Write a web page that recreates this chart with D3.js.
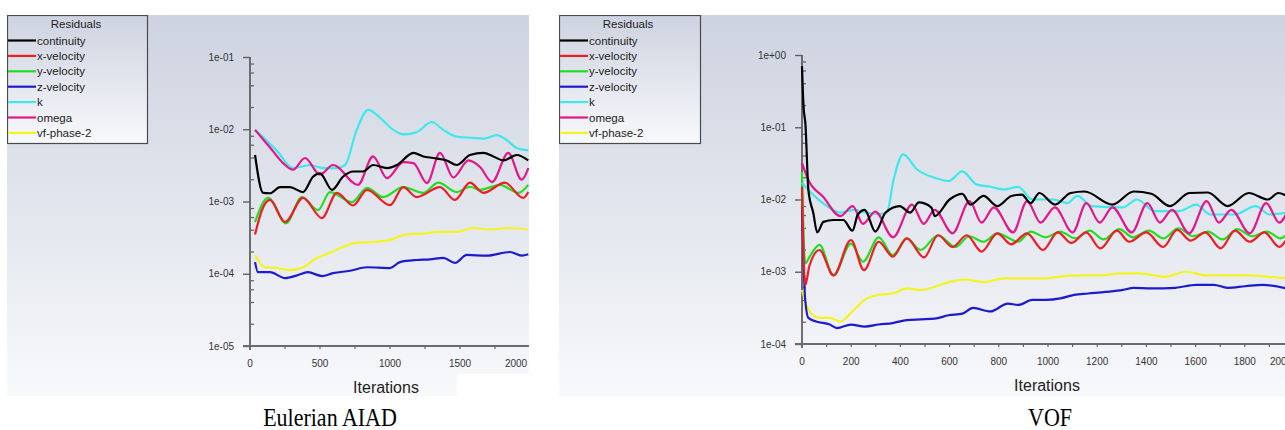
<!DOCTYPE html>
<html>
<head>
<meta charset="utf-8">
<script src="https://cdn.jsdelivr.net/npm/d3@7"></script>
<style>
    body { margin: 0; background: #ffffff; }
    svg { display: block; font-family: Arial, "Liberation Sans", sans-serif; }
</style>
</head>
<body>
<svg id="chart" width="1285" height="430"></svg>
<script>
/* residual plots, Eulerian AIAD vs VOF */

const residualNames = ["continuity", "x-velocity", "y-velocity", "z-velocity", "k", "omega", "vf-phase-2"];
const residualColors = ["#000000", "#ee1c24", "#22dd22", "#1c1ccc", "#3ee8ec", "#e4168a", "#f4f422"];

// Eulerian AIAD: [iteration, residual]
const aiadContinuity = [[36, 4.4e-3], [93, 1.32e-3], [143, 1.3e-3], [214, 1.58e-3], [286, 1.58e-3], [379, 1.35e-3], [450, 2.2e-3], [500, 2.45e-3], [586, 1.45e-3], [664, 2.2e-3], [736, 2.6e-3], [807, 2.6e-3], [879, 3.2e-3], [979, 2.9e-3], [1050, 3.2e-3], [1167, 4.7e-3], [1238, 4.2e-3], [1310, 4.0e-3], [1405, 3.7e-3], [1476, 3.2e-3], [1571, 4.4e-3], [1667, 4.7e-3], [1738, 4.2e-3], [1810, 3.7e-3], [1905, 4.4e-3], [1988, 3.7e-3]];
const aiadXVelocity = [[36, 3.5e-4], [90, 8e-4], [143, 1.05e-3], [250, 5.2e-4], [379, 1.12e-3], [514, 5.9e-4], [621, 1.32e-3], [736, 8.8e-4], [836, 1.45e-3], [1000, 8.9e-4], [1095, 1.58e-3], [1190, 1.15e-3], [1357, 1.58e-3], [1464, 1.05e-3], [1571, 1.82e-3], [1667, 1.32e-3], [1821, 1.82e-3], [1952, 1.12e-3], [1988, 1.35e-3]];
const aiadYVelocity = [[36, 5.2e-4], [129, 1.12e-3], [257, 5.0e-4], [371, 1.15e-3], [486, 7.6e-4], [571, 1.35e-3], [729, 9.8e-4], [836, 1.55e-3], [950, 1.15e-3], [1095, 1.58e-3], [1238, 1.32e-3], [1345, 1.82e-3], [1476, 1.35e-3], [1571, 1.6e-3], [1640, 1.45e-3], [1786, 1.7e-3], [1917, 1.32e-3], [1988, 1.7e-3]];
const aiadZVelocity = [[36, 1.45e-4], [57, 1.05e-4], [143, 1.05e-4], [250, 8.7e-5], [336, 9.5e-5], [414, 1.05e-4], [514, 9.3e-5], [593, 1.02e-4], [714, 1.1e-4], [836, 1.23e-4], [1000, 1.2e-4], [1071, 1.45e-4], [1190, 1.55e-4], [1286, 1.58e-4], [1381, 1.66e-4], [1464, 1.41e-4], [1548, 1.82e-4], [1690, 1.78e-4], [1857, 2.0e-4], [1940, 1.78e-4], [1988, 1.86e-4]];
const aiadK = [[36, 9.8e-3], [190, 5.1e-3], [309, 2.9e-3], [429, 3.2e-3], [523, 2.9e-3], [620, 2.9e-3], [679, 3.2e-3], [762, 9.8e-3], [845, 1.86e-2], [928, 1.45e-2], [1024, 9.8e-3], [1095, 8.5e-3], [1190, 9.1e-3], [1298, 1.26e-2], [1381, 9.8e-3], [1476, 7.9e-3], [1595, 7.6e-3], [1667, 7.4e-3], [1762, 8.3e-3], [1833, 7.1e-3], [1905, 5.5e-3], [1988, 5.1e-3]];
const aiadOmega = [[36, 9.8e-3], [143, 5.6e-3], [236, 3.4e-3], [307, 2.75e-3], [393, 4.0e-3], [500, 2.35e-3], [593, 3.2e-3], [771, 1.7e-3], [879, 4.2e-3], [979, 2.1e-3], [1095, 3.5e-3], [1167, 3.4e-3], [1264, 1.8e-3], [1357, 4.7e-3], [1452, 2.15e-3], [1560, 3.7e-3], [1643, 3.0e-3], [1729, 1.86e-3], [1845, 4.7e-3], [1940, 2.0e-3], [1988, 2.9e-3]];
const aiadPhase = [[36, 1.82e-4], [107, 1.23e-4], [193, 1.2e-4], [286, 1.12e-4], [379, 1.23e-4], [479, 1.66e-4], [571, 1.95e-4], [664, 2.35e-4], [764, 2.7e-4], [879, 2.75e-4], [1000, 2.95e-4], [1119, 3.5e-4], [1238, 3.6e-4], [1357, 3.8e-4], [1476, 3.8e-4], [1595, 4.3e-4], [1714, 4.1e-4], [1857, 4.3e-4], [1988, 4.1e-4]];

// VOF: [iteration, residual]
const vofContinuity = [[0, 0.7], [6, 0.2], [14, 0.11], [26, 1.35e-2], [46, 6.5e-3], [62, 3.5e-3], [87, 4.9e-3], [128, 5.2e-3], [168, 5.2e-3], [205, 3.7e-3], [227, 6.2e-3], [255, 7.2e-3], [298, 3.6e-3], [340, 6.6e-3], [397, 8.1e-3], [440, 6.6e-3], [475, 9.1e-3], [525, 7.8e-3], [540, 5.9e-3], [600, 1.0e-2], [652, 1.2e-2], [685, 8.5e-3], [738, 1.12e-2], [794, 8.1e-3], [851, 1.12e-2], [894, 1.17e-2], [929, 8.9e-3], [965, 1.23e-2], [1028, 8.5e-3], [1092, 1.23e-2], [1149, 1.29e-2], [1262, 8.5e-3], [1348, 1.29e-2], [1420, 1.2e-2], [1496, 8.1e-3], [1574, 1.23e-2], [1650, 1.25e-2], [1730, 8.1e-3], [1816, 1.23e-2], [1894, 1.0e-2], [1936, 1.23e-2], [1975, 1.1e-2]];
const vofXVelocity = [[0, 1.5e-2], [13, 6.5e-4], [30, 1.2e-3], [71, 2.0e-3], [128, 8.9e-4], [199, 2.75e-3], [252, 1.05e-3], [312, 2.6e-3], [369, 1.62e-3], [426, 2.9e-3], [496, 1.58e-3], [553, 3.2e-3], [612, 2.2e-3], [670, 3.2e-3], [730, 1.9e-3], [794, 3.4e-3], [850, 2.4e-3], [915, 3.4e-3], [979, 2.0e-3], [1040, 3.5e-3], [1095, 2.5e-3], [1155, 3.5e-3], [1213, 2.1e-3], [1280, 3.7e-3], [1330, 2.6e-3], [1400, 3.5e-3], [1468, 2.2e-3], [1525, 3.8e-3], [1580, 2.7e-3], [1640, 3.5e-3], [1702, 2.1e-3], [1760, 3.7e-3], [1820, 2.6e-3], [1880, 3.5e-3], [1940, 2.2e-3], [1975, 3.0e-3]];
const vofYVelocity = [[0, 2.4e-2], [13, 1.3e-3], [30, 1.6e-3], [71, 2.35e-3], [128, 8.9e-4], [199, 2.45e-3], [248, 1.38e-3], [312, 3.0e-3], [369, 1.7e-3], [426, 2.9e-3], [482, 2.0e-3], [553, 3.2e-3], [624, 2.2e-3], [680, 3.1e-3], [738, 2.6e-3], [794, 3.4e-3], [879, 2.6e-3], [930, 3.6e-3], [990, 3.0e-3], [1050, 3.6e-3], [1110, 2.9e-3], [1170, 3.7e-3], [1225, 2.8e-3], [1290, 3.9e-3], [1345, 3.0e-3], [1410, 3.7e-3], [1470, 2.9e-3], [1530, 4.0e-3], [1590, 3.1e-3], [1650, 3.6e-3], [1710, 2.8e-3], [1770, 3.9e-3], [1830, 3.1e-3], [1890, 3.6e-3], [1945, 2.9e-3], [1975, 3.4e-3]];
const vofZVelocity = [[0, 8e-3], [13, 4.1e-4], [26, 2.3e-4], [57, 2.05e-4], [113, 1.86e-4], [142, 1.66e-4], [199, 1.86e-4], [255, 1.74e-4], [312, 1.86e-4], [369, 1.95e-4], [426, 2.14e-4], [482, 2.19e-4], [539, 2.24e-4], [596, 2.5e-4], [652, 2.63e-4], [695, 3.16e-4], [766, 2.82e-4], [837, 3.63e-4], [879, 3.47e-4], [936, 4.07e-4], [993, 4.07e-4], [1050, 4.27e-4], [1106, 4.79e-4], [1163, 5.0e-4], [1234, 5.25e-4], [1305, 5.6e-4], [1348, 6.0e-4], [1418, 5.9e-4], [1518, 6.0e-4], [1603, 6.6e-4], [1674, 6.6e-4], [1730, 6.0e-4], [1801, 6.3e-4], [1872, 6.6e-4], [1969, 5.9e-4]];
const vofK = [[0, 1.7e-2], [14, 1.5e-2], [85, 8.9e-3], [156, 6.6e-3], [213, 7.2e-3], [255, 6.6e-3], [312, 6.3e-3], [345, 6.6e-3], [372, 1.86e-2], [411, 4.2e-2], [468, 2.6e-2], [539, 2.0e-2], [596, 1.8e-2], [652, 2.45e-2], [709, 1.62e-2], [766, 1.5e-2], [823, 1.38e-2], [879, 1.5e-2], [936, 1.0e-2], [1021, 1.0e-2], [1078, 8.9e-3], [1120, 1.12e-2], [1177, 8.1e-3], [1305, 7.8e-3], [1362, 1.0e-2], [1433, 6.9e-3], [1532, 6.9e-3], [1603, 8.5e-3], [1660, 6.2e-3], [1759, 6.2e-3], [1844, 8.1e-3], [1901, 6.2e-3], [1975, 6.6e-3]];
const vofOmega = [[0, 3.2e-2], [28, 1.8e-2], [85, 1.1e-2], [156, 5.9e-3], [206, 8.1e-3], [248, 4.6e-3], [298, 6.8e-3], [370, 3.0e-3], [447, 8.5e-3], [495, 4.6e-3], [539, 7.2e-3], [612, 3.4e-3], [681, 9.5e-3], [730, 4.8e-3], [780, 7.8e-3], [858, 3.5e-3], [915, 9.5e-3], [970, 4.8e-3], [1028, 7.8e-3], [1100, 3.5e-3], [1156, 8.9e-3], [1210, 4.8e-3], [1262, 7.8e-3], [1340, 3.5e-3], [1404, 8.9e-3], [1455, 4.8e-3], [1504, 7.2e-3], [1574, 3.4e-3], [1645, 9.5e-3], [1695, 4.8e-3], [1745, 7.2e-3], [1820, 3.4e-3], [1887, 8.9e-3], [1940, 4.8e-3], [1975, 7.0e-3]];
const vofPhase = [[0, 5.6e-4], [28, 2.95e-4], [71, 2.3e-4], [113, 2.3e-4], [156, 2.05e-4], [199, 2.7e-4], [255, 4.1e-4], [312, 4.8e-4], [369, 5.0e-4], [426, 5.9e-4], [482, 5.6e-4], [539, 6.2e-4], [596, 7.2e-4], [667, 7.8e-4], [738, 7.2e-4], [823, 8.1e-4], [908, 8.1e-4], [993, 8.1e-4], [1064, 8.7e-4], [1135, 8.9e-4], [1206, 8.9e-4], [1305, 9.5e-4], [1376, 9.5e-4], [1475, 8.5e-4], [1560, 1.0e-3], [1645, 8.9e-4], [1730, 8.9e-4], [1816, 8.9e-4], [1901, 8.5e-4], [1975, 8.1e-4]];

const aiadXTicks = [0, 500, 1000, 1500, 2000];
const aiadYTicks = [1e-5, 1e-4, 1e-3, 1e-2, 1e-1];
const vofXTicks = [0, 200, 400, 600, 800, 1000, 1200, 1400, 1600, 1800, 2000];
const vofYTicks = [1e-4, 1e-3, 1e-2, 1e-1, 1e0];

const panels = [
    {
        id: "aiad",
        caption: "Eulerian AIAD",
        captionX: 330,
        series: [aiadContinuity, aiadXVelocity, aiadYVelocity, aiadZVelocity, aiadK, aiadOmega, aiadPhase],
        xTicks: aiadXTicks,
        xMinorStep: 250,
        yTicks: aiadYTicks,
        frame: { x: 7, y: 15, w: 522, h: 381 },
        xRange: [250, 530],
        yRange: [346, 57],
        lastLabelX: 516,
        legend: { x: 7, y: 15, w: 140, h: 128 },
        titleX: 386
    },
    {
        id: "vof",
        caption: "VOF",
        captionX: 1050,
        series: [vofContinuity, vofXVelocity, vofYVelocity, vofZVelocity, vofK, vofOmega, vofPhase],
        xTicks: vofXTicks,
        xMinorStep: 100,
        yTicks: vofYTicks,
        frame: { x: 559, y: 15, w: 726, h: 382 },
        xRange: [802, 1294],
        yRange: [344, 55],
        lastLabelX: 1281,
        legend: { x: 559, y: 15, w: 141, h: 128 },
        titleX: 1047
    }
];

function formatExp(d) {
    const e = Math.round(Math.log10(d));
    return `1e${e < 0 ? "-" : "+"}${String(Math.abs(e)).padStart(2, "0")}`;
}

const svg = d3.select("#chart");
const defs = svg.append("defs");

const grad = defs.append("linearGradient")
    .attr("id", "bg")
    .attr("x1", 0).attr("y1", 0).attr("x2", 0).attr("y2", 1);
grad.append("stop").attr("offset", "0%").attr("stop-color", "#cdd3e0");
grad.append("stop").attr("offset", "55%").attr("stop-color", "#e4e7ee");
grad.append("stop").attr("offset", "100%").attr("stop-color", "#f8f9fb");

panels.forEach(p => {
    const f = p.frame;
    defs.append("clipPath").attr("id", `clip-${p.id}`)
        .append("rect").attr("x", f.x).attr("y", f.y).attr("width", f.w).attr("height", f.h);

    const g = svg.append("g").attr("clip-path", `url(#clip-${p.id})`);

    g.append("rect")
        .attr("x", f.x).attr("y", f.y).attr("width", f.w).attr("height", f.h)
        .attr("fill", "url(#bg)");

    const x = d3.scaleLinear().domain([0, 2000]).range(p.xRange);
    const y = d3.scaleLog().domain(d3.extent(p.yTicks)).range(p.yRange);
    const x0 = p.xRange[0];
    const yBottom = p.yRange[0];

    // minor y ticks
    const minor = [];
    p.yTicks.slice(0, -1).forEach(t => {
        [2, 4, 6, 8].forEach(m => minor.push(t * m));
    });
    g.append("g").selectAll("line").data(minor).join("line")
        .attr("x1", x0).attr("x2", x0 + 4)
        .attr("y1", d => y(d)).attr("y2", d => y(d))
        .attr("stroke", "#606060").attr("stroke-width", 1.2);

    // y axis
    const yAxis = d3.axisLeft(y).tickValues(p.yTicks).tickFormat(formatExp).tickSize(7).tickPadding(9);
    const ya = g.append("g").attr("transform", `translate(${x0},0)`).call(yAxis);
    ya.select(".domain").remove();
    ya.selectAll(".tick line").attr("stroke", "#606060").attr("stroke-width", 1.4);
    ya.selectAll(".tick text").attr("fill", "#333").style("font-size", "10px").style("font-family", "Arial, 'Liberation Sans', sans-serif");

    g.append("line")
        .attr("x1", x0).attr("x2", x0)
        .attr("y1", p.yRange[1]).attr("y2", yBottom + 4)
        .attr("stroke", "#606060").attr("stroke-width", 1.8);

    // x axis
    g.append("line")
        .attr("x1", x0 - 7).attr("x2", f.x + f.w)
        .attr("y1", yBottom).attr("y2", yBottom)
        .attr("stroke", "#6a6a6a").attr("stroke-width", 1.8);

    const xMinor = d3.range(p.xMinorStep, 2001, p.xMinorStep);
    g.append("g").selectAll("line").data(xMinor).join("line")
        .attr("x1", d => x(d)).attr("x2", d => x(d))
        .attr("y1", yBottom).attr("y2", yBottom + 3)
        .attr("stroke", "#606060").attr("stroke-width", 1.2);

    // the last label sits where the screenshot cut it off
    const lastTick = p.xTicks[p.xTicks.length - 1];
    g.append("g").selectAll("text").data(p.xTicks).join("text")
        .attr("x", d => (d === lastTick ? p.lastLabelX : x(d)))
        .attr("y", yBottom + 21)
        .attr("text-anchor", "middle")
        .attr("fill", "#333")
        .style("font-size", "10px")
        .text(d => d);

    g.append("text")
        .attr("x", p.titleX).attr("y", yBottom + 47)
        .attr("text-anchor", "middle")
        .attr("fill", "#222")
        .style("font-size", "16px")
        .text("Iterations");

    // residual lines
    const line = d3.line()
        .x(d => x(d[0]))
        .y(d => y(d[1]))
        .curve(d3.curveMonotoneX);

    const order = [6, 3, 2, 1, 4, 5, 0];
    g.append("g").selectAll("path").data(order).join("path")
        .attr("d", i => line(p.series[i]))
        .attr("fill", "none")
        .attr("stroke", i => residualColors[i])
        .attr("stroke-width", 2.2)
        .attr("stroke-linejoin", "round");

    // legend
    const L = p.legend;
    const lg = g.append("g");
    lg.append("rect")
        .attr("x", L.x + 0.5).attr("y", L.y + 0.5).attr("width", L.w).attr("height", L.h)
        .attr("fill", "url(#bg)")
        .attr("stroke", "#4a4a4a").attr("stroke-width", 1.2);
    lg.append("text")
        .attr("x", L.x + 69).attr("y", L.y + 13)
        .attr("text-anchor", "middle")
        .attr("fill", "#222")
        .style("font-size", "11.5px")
        .text("Residuals");
    const rows = lg.selectAll("g.row").data(residualNames).join("g")
        .attr("class", "row")
        .attr("transform", (d, i) => `translate(${L.x},${L.y + 25.5 + i * 15.4})`);
    rows.append("line")
        .attr("x1", 1).attr("x2", 29)
        .attr("y1", 0).attr("y2", 0)
        .attr("stroke", (d, i) => residualColors[i])
        .attr("stroke-width", 2.2);
    rows.append("text")
        .attr("x", 30).attr("y", 4)
        .attr("fill", "#222")
        .style("font-size", "11.5px")
        .text(d => d);

    // caption below the panel, narrow and tall like the scanned one
    svg.append("text")
        .attr("transform", `translate(${p.captionX},426) scale(0.88,1)`)
        .attr("text-anchor", "middle")
        .attr("fill", "#000")
        .style("font-family", "'Liberation Serif', 'Times New Roman', serif")
        .style("font-size", "25px")
        .text(p.caption);
});

// white patch at the lower right of the left screenshot
svg.append("rect")
    .attr("x", 457).attr("y", 374).attr("width", 73).attr("height", 23)
    .attr("fill", "#ffffff");
</script>
</body>
</html>
